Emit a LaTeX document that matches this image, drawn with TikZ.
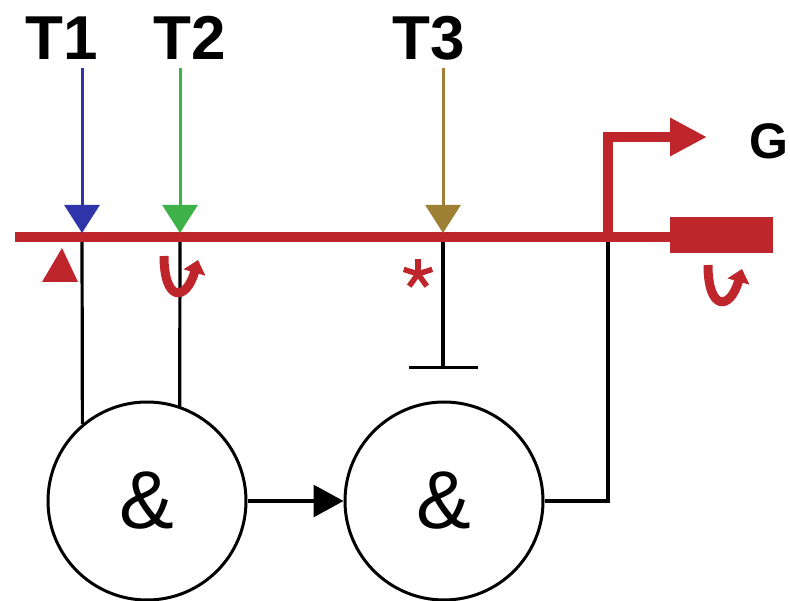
\documentclass[tikz,border=0pt]{standalone}
\usepackage{fontspec}
\setmainfont{Liberation Sans}
\usetikzlibrary{arrows.meta,positioning}
\definecolor{genered}{RGB}{190,38,44}
\definecolor{tfblue}{RGB}{48,52,170}
\definecolor{tfgreen}{RGB}{62,178,72}
\definecolor{tfgold}{RGB}{158,128,52}

\begin{document}
\begin{tikzpicture}[x=1pt, y=-1pt,
    node distance=96pt,
    gate/.style={circle, draw, line width=3pt, minimum size=198pt, inner sep=0pt, font=\fontsize{82}{82}\selectfont},
    tflbl/.style={font=\bfseries\fontsize{62}{62}\selectfont, inner sep=0pt},
    tfarr/.style={line width=3pt, shorten >=4pt, -{Triangle[length=28pt, width=35pt]}},
    wire/.style={line width=3.2pt},
    dna/.style={genered, line width=10pt},
    uturn/.style={genered, line width=9pt, -{Triangle[length=13pt, width=22pt]}}
]
    \useasboundingbox (0,0) rectangle (790,601);

    % gates
    \node[gate] (and1) at (147,501) {\&};
    \node[gate, right=of and1] (and2) {\&};

    % sites on the DNA
    \coordinate (dnaL) at (15,237);
    \coordinate (dnaR) at (670,237);
    \coordinate (s1) at (82,237);
    \coordinate (s2) at (180,237);
    \coordinate (s3) at (443,237);
    \coordinate (tss) at (608,237);
    \coordinate (tssTop) at (608,137);
    \coordinate (tssTip) at (707,137);
    \coordinate (block) at (443,369);

    % wiring
    \draw[wire] (s1) -- (and1.130);
    \draw[wire] (s2) -- (and1.71);
    \draw[wire, -{Bar[width=69pt]}] (s3) -- (block);
    \draw[wire, -{Triangle[length=30pt, width=32pt]}] (and1) -- (and2);
    \draw[wire] (and2.east) -| (tss);

    % DNA, promoter and gene
    \draw[dna] (dnaL) -- (dnaR);
    \fill[genered] (670,217) rectangle (773,253);
    \draw[dna, -{Triangle[length=37pt, width=36pt]}] (tss) -- (tssTop) -- (tssTip);
    \node[font=\bfseries\fontsize{50}{50}\selectfont, inner sep=0pt, anchor=west] (gene) at (749,141) {G};

    % transcription factors
    \node[tflbl] (t1) at (62,38) {T1};
    \node[tflbl] (t2) at (190,38) {T2};
    \node[tflbl] (t3) at (429,38) {T3};
    \draw[tfarr, tfblue] ([yshift=-8pt]t1.south -| s1) -- (s1);
    \draw[tfarr, tfgreen] ([yshift=-8pt]t2.south -| s2) -- (s2);
    \draw[tfarr, tfgold] ([yshift=-8pt]t3.south -| s3) -- (s3);

    % site marks
    \fill[genered] (42,282) -- (62,248) -- (78,282) -- cycle;
    \draw[uturn] (164,256) .. controls (164,302) and (186,302) .. (198,260);
    \draw[uturn] (708,265) .. controls (708,311) and (730,311) .. (742,269);
    \foreach \a in {-90,-18,54,126,198}
        \draw[genered, line width=5.5pt] (418,274) -- ++(\a:15);
\end{tikzpicture}
\end{document}
